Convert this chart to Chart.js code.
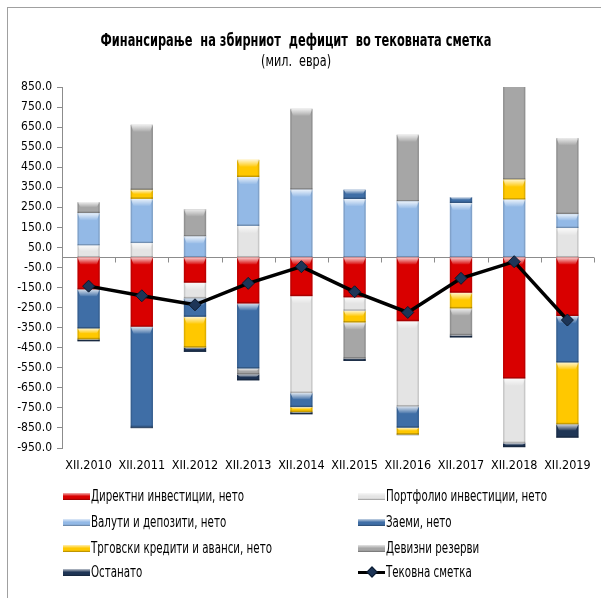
<!DOCTYPE html>
<html>
<head>
<meta charset="utf-8">
<script src="https://cdn.jsdelivr.net/npm/chart.js@4.4.1/dist/chart.umd.min.js"></script>
<style>
html,body{margin:0;padding:0;background:#fff;overflow:hidden;}
#wrap{position:relative;width:601px;height:598px;overflow:hidden;}
#frame{position:absolute;left:7px;top:7px;width:700px;height:700px;border-left:1.5px solid #a0a0a0;border-top:1.5px solid #a0a0a0;}
#c{position:absolute;left:0;top:0;}
.ttl{position:absolute;left:0;width:592px;text-align:center;font-family:"DejaVu Sans Condensed","DejaVu Sans",sans-serif;color:#000;white-space:pre;}
.ttl span{display:inline-block;transform-origin:50% 50%;}
#title{top:29px;font-size:18px;font-weight:bold;}
#sub{top:52px;font-size:15px;}
#legend{position:absolute;left:0;top:0;width:601px;height:598px;pointer-events:none;}
.li{position:absolute;height:20px;display:flex;align-items:center;font-family:"DejaVu Sans Condensed","DejaVu Sans",sans-serif;font-size:15.5px;color:#000;white-space:nowrap;}
.li span{display:inline-block;transform-origin:0 50%;}
.sw{width:27px;height:7px;margin-right:1px;box-sizing:border-box;flex:none;}
.ln{width:27px;height:12px;margin-right:1px;position:relative;flex:none;}
.ln:before{content:"";position:absolute;left:0;right:0;top:5px;height:3px;background:#000;}
.ln:after{content:"";position:absolute;left:10px;top:2px;width:6px;height:6px;background:#1d3557;border:1px solid #0b1a2e;transform:rotate(45deg);}
</style>
</head>
<body>
<div id="wrap">
  <div id="frame"></div>
  <canvas id="c" width="601" height="598"></canvas>
  <div id="title" class="ttl"><span>Финансирање  на збирниот  дефицит  во тековната сметка</span></div>
  <div id="sub" class="ttl"><span>(мил.  евра)</span></div>
  <div id="legend"></div>
</div>
<script>
// ---- data ----
const categories = ['XII.2010','XII.2011','XII.2012','XII.2013','XII.2014','XII.2015','XII.2016','XII.2017','XII.2018','XII.2019'];
const seriesNames = ['Директни инвестиции, нето','Портфолио инвестиции, нето','Валути и депозити, нето','Заеми, нето','Трговски кредити и аванси, нето','Девизни резерви','Останато','Тековна сметка'];
const directInv    = [-159, -346, -126, -229, -193, -199, -318, -176, -604, -292];
const portfolioInv = [  59,   71,  -78,  157, -483,  -67, -425,    0, -322,  146];
const currencyDep  = [ 162,  221,  104,  244,  338,  291,  279,  271,  288,   70];
const loans        = [-195, -500,  -92, -325,  -70,   47, -106,   30,    0, -232];
const tradeCredits = [ -54,   45, -153,   86,  -25,  -58,  -34,  -78,  100, -308];
const reserves     = [  55,  325,  137,  -29,  403, -180,  333, -134,  512,  380];
const otherItems   = [ -10,   -5,  -22,  -30,  -11,  -12,   -3,  -11,  -20,  -67];
const currentAcct  = [-143, -191, -236, -129,  -46, -171, -274, -104,  -21, -312];
const yMin = -950, yMax = 850, yStep = 100;

const barColors = ['#d90000','#e4e4e4','#93b9e6','#3f6ea6','#ffc800','#a6a6a6','#1f3555'];
const barData = [directInv, portfolioInv, currencyDep, loans, tradeCredits, reserves, otherItems];

const bevel = {
  id: 'bevel',
  afterDatasetDraw(chart, args) {
    const meta = args.meta;
    if (meta.type !== 'bar') return;
    const {ctx, chartArea} = chart;
    ctx.save();
    ctx.beginPath();
    ctx.rect(chartArea.left, chartArea.top, chartArea.right - chartArea.left, chartArea.bottom - chartArea.top);
    ctx.clip();
    meta.data.forEach(el => {
      const p = el.getProps(['x','y','base','width'], true);
      const top = Math.min(p.y, p.base), bot = Math.max(p.y, p.base), h = bot - top;
      if (h < 1) return;
      const l = p.x - p.width / 2, w = p.width;
      const hh = Math.min(7, h * 0.45);
      const g = ctx.createLinearGradient(0, top, 0, top + hh);
      g.addColorStop(0, 'rgba(255,255,255,0.8)');
      g.addColorStop(1, 'rgba(255,255,255,0.05)');
      ctx.fillStyle = g;
      ctx.beginPath();
      ctx.moveTo(l, top); ctx.lineTo(l + w, top); ctx.lineTo(l + w - 3, top + hh); ctx.lineTo(l + 3, top + hh); ctx.closePath();
      ctx.fill();
      ctx.fillStyle = 'rgba(0,0,0,0.12)';
      ctx.fillRect(l, top, 1.5, h);
      ctx.fillRect(l + w - 1.5, top, 1.5, h);
      ctx.fillStyle = 'rgba(0,0,0,0.22)';
      ctx.fillRect(l, bot - 1.5, w, 1.5);
    });
    ctx.restore();
  }
};

const zeroAxis = {
  id: 'zeroAxis',
  beforeDatasetsDraw(chart) {
    const {ctx, chartArea, scales} = chart;
    const x = scales.x, y = scales.y;
    const y0 = Math.round(y.getPixelForValue(0)) + 0.5;
    ctx.save();
    ctx.strokeStyle = '#8c8c8c';
    ctx.lineWidth = 1;
    ctx.beginPath();
    ctx.moveTo(chartArea.left, y0);
    ctx.lineTo(chartArea.right, y0);
    for (let i = 0; i <= categories.length; i++) {
      const px = Math.round(x.getPixelForValue(i - 0.5)) + 0.5;
      ctx.moveTo(px, y0);
      ctx.lineTo(px, y0 + 5);
    }
    ctx.stroke();
    ctx.restore();
  }
};

const datasets = barData.map((d, i) => ({
  type: 'bar',
  label: seriesNames[i],
  data: d,
  backgroundColor: barColors[i],
  borderWidth: 0,
  stack: 'fin',
  order: 1,
  clip: 0,
  barPercentage: 0.42,
  categoryPercentage: 1.0
}));
datasets.push({
  type: 'line',
  label: seriesNames[7],
  data: currentAcct,
  borderColor: '#000',
  borderWidth: 3.5,
  pointStyle: 'rectRot',
  pointRadius: 6,
  pointBackgroundColor: '#1d3557',
  pointBorderColor: '#0b1a2e',
  pointBorderWidth: 1,
  stack: 'ca',
  order: 0,
  tension: 0
});

const cond = '"DejaVu Sans Condensed","DejaVu Sans",sans-serif';
const chart = new Chart(document.getElementById('c'), {
  data: {labels: categories, datasets},
  plugins: [zeroAxis, bevel],
  options: {
    responsive: false,
    devicePixelRatio: 1,
    animation: false,
    layout: {padding: {left: 0, top: 87, right: 0, bottom: 120}},
    plugins: {legend: {display: false}, tooltip: {enabled: false}},
    scales: {
      x: {
        stacked: true,
        offset: true,
        grid: {display: false, drawTicks: false},
        border: {display: false},
        ticks: {color: '#000', font: {family: cond, size: 12.5}, padding: 10, maxRotation: 0, autoSkip: false},
        afterFit(s) { s.height = 30; }
      },
      y: {
        stacked: true,
        min: yMin, max: yMax,
        border: {display: true, color: '#8c8c8c', width: 1},
        grid: {drawOnChartArea: false, drawTicks: true, tickLength: 5, color: '#8c8c8c'},
        ticks: {stepSize: yStep, maxTicksLimit: 40, color: '#000', padding: 5,
                font: {family: cond, size: 12},
                callback: v => Number(v).toFixed(1)},
        afterFit(s) { s.width = 62; }
      }
    }
  }
});

function fitWidth(sp, target) {
  const w = sp.getBoundingClientRect().width;
  const k = target / w;
  sp.style.transform = 'scaleX(' + k + ')';
  return k;
}
fitWidth(document.querySelector('#title span'), 391);
fitWidth(document.querySelector('#sub span'), 70);

// legend built from datasets
const lg = document.getElementById('legend');
const colX = [63, 358];
const rowY = [486, 512, 538, 562];
const spans = [];
chart.data.datasets.forEach((ds, i) => {
  const item = document.createElement('div');
  item.className = 'li';
  item.style.left = colX[i % 2] + 'px';
  item.style.top = rowY[Math.floor(i / 2)] + 'px';
  const sw = document.createElement('div');
  if (ds.type === 'line') {
    sw.className = 'ln';
  } else {
    sw.className = 'sw';
    const c = ds.backgroundColor;
    sw.style.background = 'linear-gradient(to bottom, rgba(255,255,255,0.7) 0%, ' + c + ' 45%, ' + c + ' 75%, rgba(0,0,0,0.35) 100%), ' + c;
  }
  const tx = document.createElement('span');
  tx.textContent = ds.label;
  item.appendChild(sw);
  item.appendChild(tx);
  lg.appendChild(item);
  spans.push(tx);
});
const k = spans[0].getBoundingClientRect().width ? 153 / spans[0].getBoundingClientRect().width : 1;
spans.forEach(s => { s.style.transform = 'scaleX(' + k + ')'; });
</script>
</body>
</html>
